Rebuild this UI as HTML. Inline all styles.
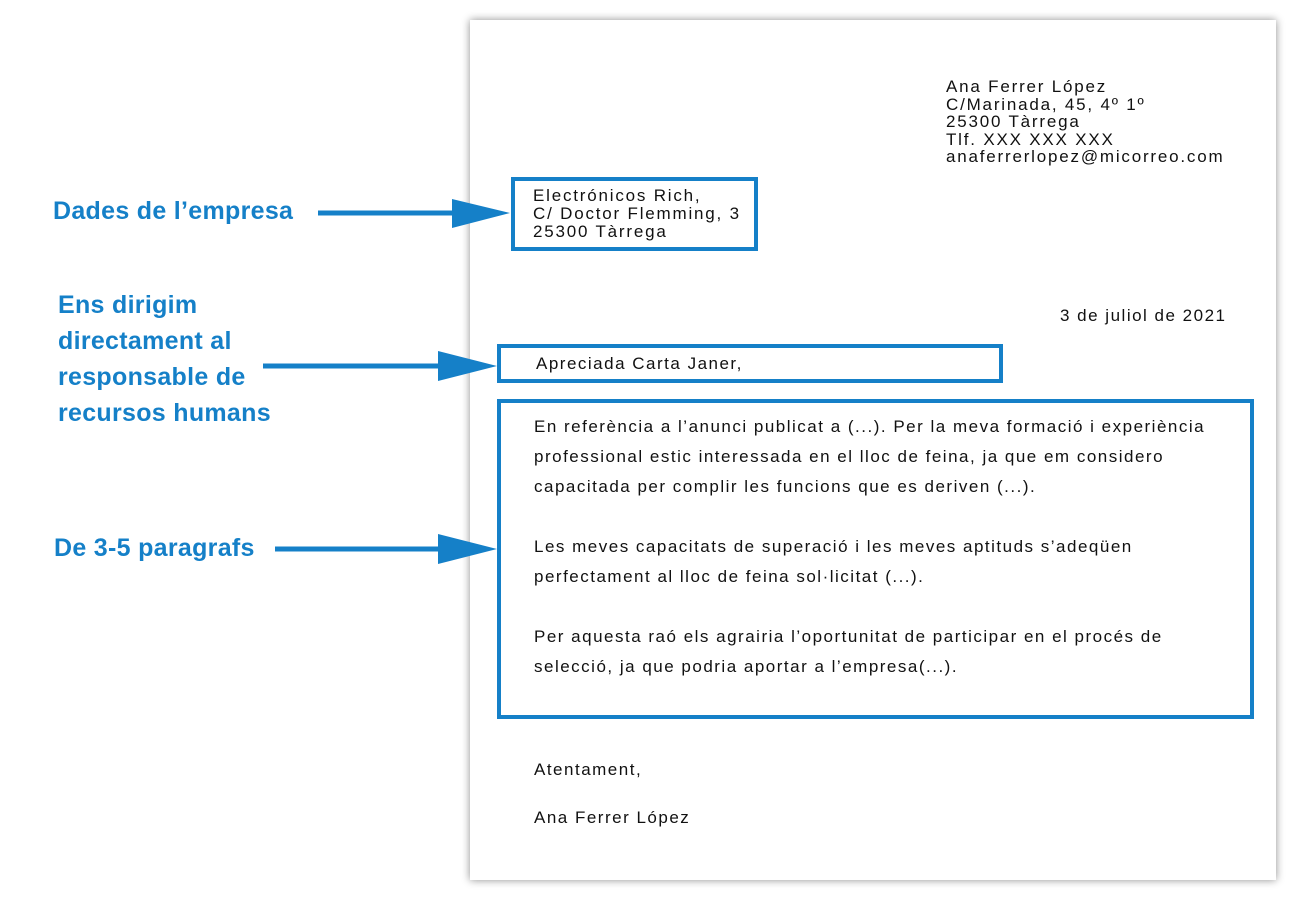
<!DOCTYPE html>
<html><head><meta charset="utf-8"><style>
body{margin:0;width:1300px;height:900px;background:#fff;position:relative;overflow:hidden;font-family:"Liberation Sans",sans-serif;}
.page{position:absolute;left:470px;top:20px;width:806px;height:860px;background:#fff;box-shadow:0 0 8px rgba(0,0,0,.45);}
.t{position:absolute;color:#111;font-size:17px;letter-spacing:1.5px;white-space:nowrap;}
.box{position:absolute;border:4px solid #1580c8;box-sizing:border-box;}
.lbl{position:absolute;color:#1580c8;font-weight:bold;font-size:25px;letter-spacing:0.3px;line-height:36px;white-space:nowrap;}
</style></head><body>
<div class="page"></div>
<div class="t" style="left:946px;top:78px;line-height:17.5px;letter-spacing:1.8px">Ana Ferrer López<br>C/Marinada, 45, 4º 1º<br>25300 Tàrrega<br>Tlf. XXX XXX XXX<br>anaferrerlopez@micorreo.com</div>
<div class="box" style="left:511px;top:177px;width:247px;height:74px"></div>
<div class="t" style="left:533px;top:187px;line-height:18px;letter-spacing:1.8px">Electrónicos Rich,<br>C/ Doctor Flemming, 3<br>25300 Tàrrega</div>
<div class="t" style="left:1060px;top:306px">3 de juliol de 2021</div>
<div class="box" style="left:497px;top:344px;width:506px;height:39px"></div>
<div class="t" style="left:536px;top:354px">Apreciada Carta Janer,</div>
<div class="box" style="left:497px;top:399px;width:757px;height:320px"></div>
<div class="t" style="left:534px;top:412px;line-height:30px">En referència a l’anunci publicat a (...). Per la meva formació i experiència<br>professional estic interessada en el lloc de feina, ja que em considero<br>capacitada per complir les funcions que es deriven (...).<br><br>Les meves capacitats de superació i les meves aptituds s’adeqüen<br>perfectament al lloc de feina sol·licitat (...).<br><br>Per aquesta raó els agrairia l’oportunitat de participar en el procés de<br>selecció, ja que podria aportar a l’empresa(...).</div>
<div class="t" style="left:534px;top:760px">Atentament,</div>
<div class="t" style="left:534px;top:808px">Ana Ferrer López</div>
<div class="lbl" style="left:53px;top:193px">Dades de l’empresa</div>
<div class="lbl" style="left:58px;top:287px">Ens dirigim<br>directament al<br>responsable de<br>recursos humans</div>
<div class="lbl" style="left:54px;top:530px">De 3-5 paragrafs</div>
<svg width="1300" height="900" style="position:absolute;left:0;top:0">
<g fill="#1580c8" stroke="#1580c8">
<line x1="318" y1="213" x2="460" y2="213" stroke-width="5"/>
<polygon points="452,199 510,213 452,228" stroke="none"/>
<line x1="263" y1="366" x2="445" y2="366" stroke-width="5"/>
<polygon points="438,351 497,366 438,381" stroke="none"/>
<line x1="275" y1="549" x2="445" y2="549" stroke-width="5"/>
<polygon points="438,534 497,549 438,564" stroke="none"/>
</g></svg>
</body></html>
